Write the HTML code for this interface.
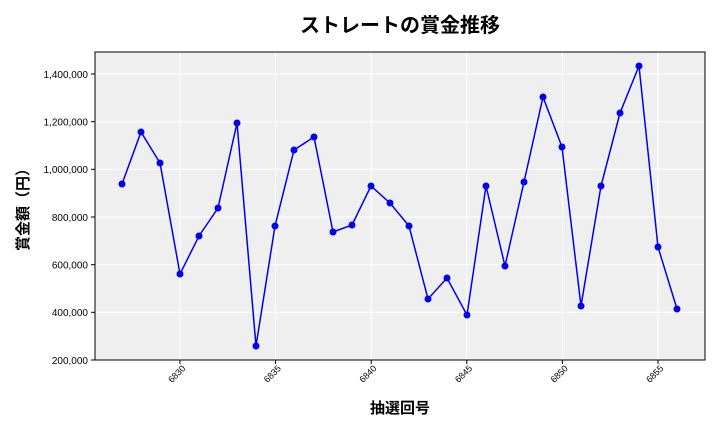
<!DOCTYPE html>
<html><head><meta charset="utf-8"><style>body{margin:0;background:#fff}</style></head>
<body>
<svg width="720" height="432" xmlns="http://www.w3.org/2000/svg" font-family="Liberation Sans, Noto Sans CJK JP, sans-serif">
<rect x="0" y="0" width="720" height="432" fill="#fff"/>
<rect x="95" y="52" width="610" height="308" fill="#efefef" stroke="#000" stroke-width="1"/>
<g stroke="#fff" stroke-width="1">
<line x1="95" x2="705" y1="74" y2="74"/><line x1="95" x2="705" y1="121.7" y2="121.7"/>
<line x1="95" x2="705" y1="169.3" y2="169.3"/><line x1="95" x2="705" y1="217" y2="217"/>
<line x1="95" x2="705" y1="264.7" y2="264.7"/><line x1="95" x2="705" y1="312.3" y2="312.3"/>
<line x1="180" x2="180" y1="52" y2="360"/><line x1="275.6" x2="275.6" y1="52" y2="360"/>
<line x1="371.2" x2="371.2" y1="52" y2="360"/><line x1="466.8" x2="466.8" y1="52" y2="360"/>
<line x1="562.4" x2="562.4" y1="52" y2="360"/><line x1="658" x2="658" y1="52" y2="360"/>
</g>
<rect x="95" y="52" width="610" height="308" fill="none" stroke="#000" stroke-width="1"/>
<g font-size="10" text-anchor="end" fill="#000">
<text x="88" y="78">1,400,000</text><text x="88" y="125.5">1,200,000</text>
<text x="88" y="173">1,000,000</text><text x="88" y="221">800,000</text>
<text x="88" y="268.5">600,000</text><text x="88" y="316">400,000</text>
<text x="88" y="364">200,000</text>
</g>
<g stroke="#000"><line x1="91" x2="95" y1="74" y2="74"/><line x1="91" x2="95" y1="121.7" y2="121.7"/><line x1="91" x2="95" y1="169.3" y2="169.3"/><line x1="91" x2="95" y1="217" y2="217"/><line x1="91" x2="95" y1="264.7" y2="264.7"/><line x1="91" x2="95" y1="312.3" y2="312.3"/><line x1="91" x2="95" y1="360" y2="360"/>
<line x1="180" x2="180" y1="360" y2="364"/><line x1="275.6" x2="275.6" y1="360" y2="364"/><line x1="371.2" x2="371.2" y1="360" y2="364"/><line x1="466.8" x2="466.8" y1="360" y2="364"/><line x1="562.4" x2="562.4" y1="360" y2="364"/><line x1="658" x2="658" y1="360" y2="364"/></g>
<g font-size="9" text-anchor="end">
<text transform="translate(186,369) rotate(-45)">6830</text>
<text transform="translate(281.6,369) rotate(-45)">6835</text>
<text transform="translate(377.2,369) rotate(-45)">6840</text>
<text transform="translate(472.8,369) rotate(-45)">6845</text>
<text transform="translate(568.4,369) rotate(-45)">6850</text>
<text transform="translate(664,369) rotate(-45)">6855</text>
</g>
<text x="400" y="32" font-size="20" font-weight="bold" text-anchor="middle">ストレートの賞金推移</text>
<text x="400" y="413" font-size="15" font-weight="bold" text-anchor="middle">抽選回号</text>
<text transform="translate(28,206) rotate(-90)" font-size="15" font-weight="bold" text-anchor="middle">賞金額（円）</text>
<polyline fill="none" stroke="#0000ee" stroke-width="1.5" points="122,184 141,132 160,163 180,274 199,236 218,208 237,123 256,346 275,226 294,150 314,137 333,232 352,225 371,186 390,203 409,226 428,299 447,278 467,315 486,186 505,266 524,182 543,97 562,147 581,306 601,186 620,113 639,66 658,247 677,309"/>
<g fill="#0000ee">
<circle cx="122" cy="184" r="3.5"/><circle cx="141" cy="132" r="3.5"/><circle cx="160" cy="163" r="3.5"/><circle cx="180" cy="274" r="3.5"/><circle cx="199" cy="236" r="3.5"/><circle cx="218" cy="208" r="3.5"/><circle cx="237" cy="123" r="3.5"/><circle cx="256" cy="346" r="3.5"/><circle cx="275" cy="226" r="3.5"/><circle cx="294" cy="150" r="3.5"/><circle cx="314" cy="137" r="3.5"/><circle cx="333" cy="232" r="3.5"/><circle cx="352" cy="225" r="3.5"/><circle cx="371" cy="186" r="3.5"/><circle cx="390" cy="203" r="3.5"/><circle cx="409" cy="226" r="3.5"/><circle cx="428" cy="299" r="3.5"/><circle cx="447" cy="278" r="3.5"/><circle cx="467" cy="315" r="3.5"/><circle cx="486" cy="186" r="3.5"/><circle cx="505" cy="266" r="3.5"/><circle cx="524" cy="182" r="3.5"/><circle cx="543" cy="97" r="3.5"/><circle cx="562" cy="147" r="3.5"/><circle cx="581" cy="306" r="3.5"/><circle cx="601" cy="186" r="3.5"/><circle cx="620" cy="113" r="3.5"/><circle cx="639" cy="66" r="3.5"/><circle cx="658" cy="247" r="3.5"/><circle cx="677" cy="309" r="3.5"/>
</g>
</svg>
</body></html>
